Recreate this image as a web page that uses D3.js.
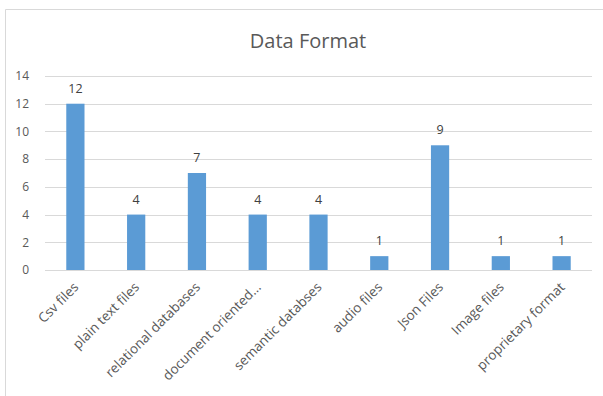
<!DOCTYPE html>
<html>
<head>
<meta charset="utf-8">
<script src="https://cdn.jsdelivr.net/npm/d3@7"></script>
<style>
  html, body { margin: 0; padding: 0; background: #fff; }
  svg { display: block; }
</style>
</head>
<body>
<svg id="chart" width="603" height="396"></svg>
<script>
// Data
const categories = ["Csv files", "plain text files", "relational databases", "document oriented...",
  "semantic databses", "audio files", "Json Files", "Image files", "proprietary format"];
const counts = [12, 4, 7, 4, 4, 1, 9, 1, 1];
const yTicks = [0, 2, 4, 6, 8, 10, 12, 14];
const title = "Data Format";

const svg = d3.select("#chart");
const font = "'Open Sans', 'Liberation Sans', sans-serif";

// chart area frame: only its left and top edges fall inside the view
svg.append("path").attr("d", "M5.5,396 V9.5 H603")
  .attr("fill", "none").attr("stroke", "#d9d9d9").attr("stroke-width", 1);

const plot = { left: 45, right: 592, top: 76, bottom: 270 };

const x = d3.scaleBand().domain(categories).range([plot.left, plot.right]).paddingInner(0.7).paddingOuter(0.35);
const y = d3.scaleLinear().domain([0, 14]).range([plot.bottom, plot.top]);

// gridlines
svg.append("g").selectAll("line").data(yTicks).join("line")
  .attr("x1", plot.left).attr("x2", plot.right)
  .attr("y1", d => Math.round(y(d)) + 0.5).attr("y2", d => Math.round(y(d)) + 0.5)
  .attr("stroke", "#d9d9d9").attr("stroke-width", 1);

// y axis labels
const yAxis = d3.axisLeft(y).tickValues(yTicks).tickSize(0).tickPadding(0);
const gy = svg.append("g").attr("transform", `translate(${plot.left - 16},0)`).call(yAxis);
gy.select(".domain").remove();
gy.selectAll("text").attr("font-family", font).attr("font-size", 12).attr("fill", "#595959");

// bars
svg.append("g").selectAll("rect").data(categories).join("rect")
  .attr("x", d => x(d)).attr("width", x.bandwidth())
  .attr("y", (d, i) => y(counts[i])).attr("height", (d, i) => y(0) - y(counts[i]))
  .attr("fill", "#5b9bd5");

// value labels
svg.append("g").selectAll("text").data(categories).join("text")
  .attr("x", d => x(d) + x.bandwidth() / 2)
  .attr("y", (d, i) => y(counts[i]) - 11)
  .attr("text-anchor", "middle")
  .attr("font-family", font).attr("font-size", 12.5).attr("fill", "#404040")
  .text((d, i) => counts[i]);

// category labels, rotated
const xAxis = d3.axisBottom(x).tickSize(0).tickPadding(0);
const gx = svg.append("g").attr("transform", `translate(0,${plot.bottom})`).call(xAxis);
gx.select(".domain").remove();
gx.selectAll("text")
  .attr("font-family", font).attr("font-size", 13.5).attr("fill", "#595959")
  .attr("text-anchor", "end").attr("dy", null).attr("y", 0)
  .attr("transform", "translate(4,18) rotate(-45)");

// title
svg.append("text").attr("x", 308).attr("y", 48).attr("text-anchor", "middle")
  .attr("font-family", font).attr("font-size", 20).attr("fill", "#595959")
  .text(title);
</script>
</body>
</html>
